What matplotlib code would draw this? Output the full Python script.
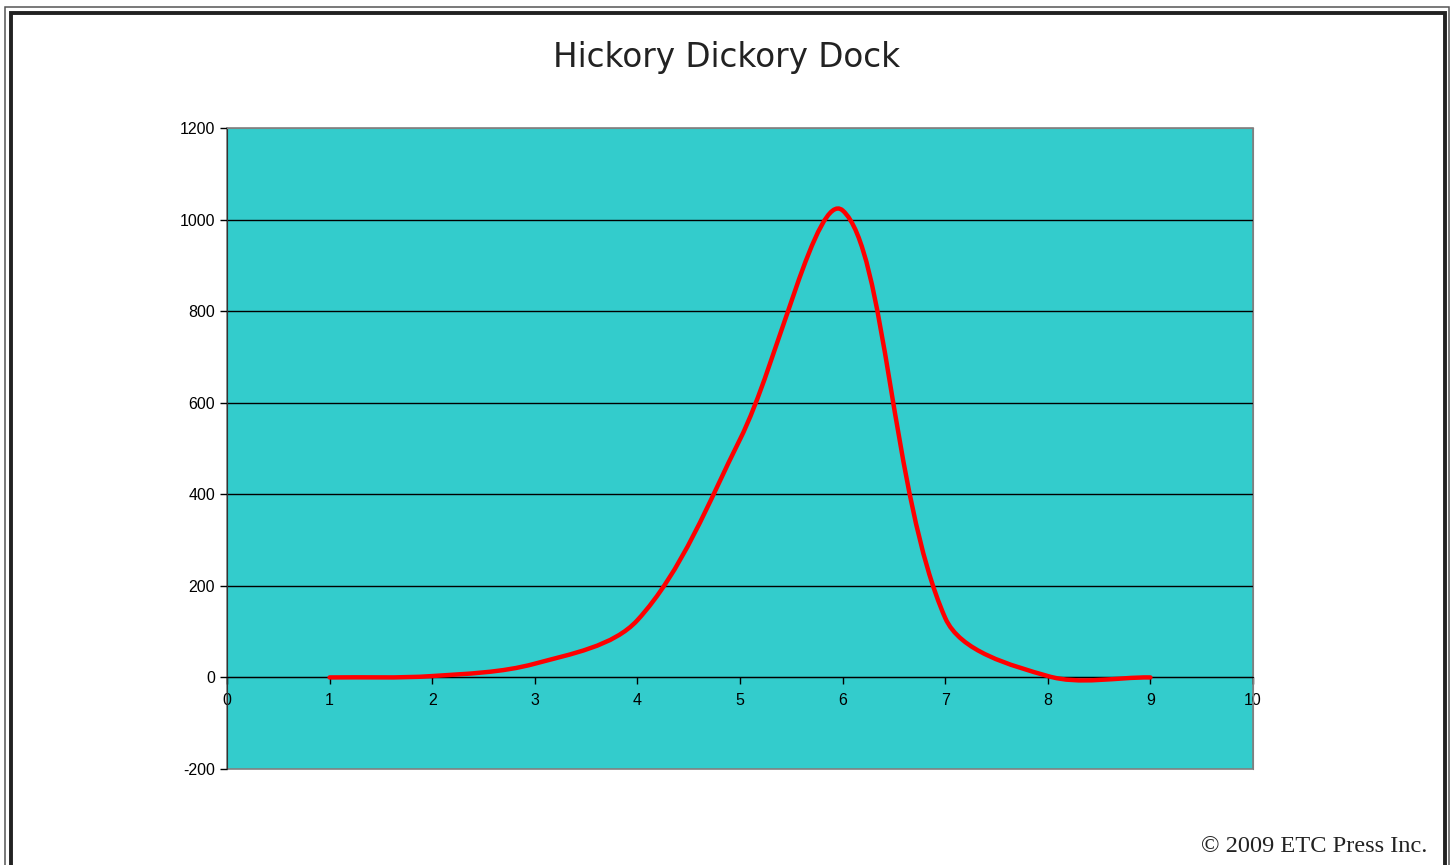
import numpy as np
import matplotlib.pyplot as plt
from matplotlib.path import Path
from matplotlib.patches import PathPatch, Rectangle

# data
x_vals = [1, 2, 3, 4, 5, 6, 7, 8, 9]
y_vals = [0, 3, 30, 125, 520, 1020, 130, 3, 0]
x_ticks = list(range(0, 11))
y_ticks = list(range(-200, 1201, 200))
title = "Hickory Dickory Dock"
credit = "\u00a9 2009 ETC Press Inc."

plt.rcParams['axes.unicode_minus'] = False


def excel_smooth_path(ax, xs, ys):
    # bezier control points like Excel's "smoothed line", distances in screen space
    pts = np.column_stack([xs, ys]).astype(float)
    scr = ax.transData.transform(pts)
    n = len(pts)
    verts = [pts[0]]
    codes = [Path.MOVETO]
    for i in range(n - 1):
        i0 = max(i - 1, 0)
        i3 = min(i + 2, n - 1)
        d01 = np.hypot(*(scr[i] - scr[i0]))
        d12 = np.hypot(*(scr[i + 1] - scr[i]))
        d23 = np.hypot(*(scr[i3] - scr[i + 1]))
        f1 = d12 / (d01 + d12) / 3
        f2 = d12 / (d12 + d23) / 3
        c1 = pts[i] + f1 * (pts[i + 1] - pts[i0])
        c2 = pts[i + 1] - f2 * (pts[i3] - pts[i])
        verts += [c1, c2, pts[i + 1]]
        codes += [Path.CURVE4] * 3
    return Path(verts, codes)


fig = plt.figure(figsize=(14.53, 8.65), dpi=100)
ax = fig.add_axes([227 / 1453, 1 - 769 / 865, 1026 / 1453, 641 / 865])
ax.set_facecolor('#33CCCC')
ax.set_xlim(0, 10)
ax.set_ylim(-200, 1200)

for y in y_ticks:
    if y not in (-200, 1200):
        ax.axhline(y, color='black', lw=1, zorder=1)

curve = excel_smooth_path(ax, x_vals, y_vals)
ax.add_patch(PathPatch(curve, facecolor='none', edgecolor='#FF0000', lw=3.2,
                       capstyle='round', joinstyle='round', zorder=3))

ax.set_xticks(x_ticks)
ax.set_yticks(y_ticks)
ax.tick_params(axis='both', labelsize=11.5, length=5, width=1, color='black',
               labelfontfamily='Liberation Sans')
ax.tick_params(axis='x', pad=6)
ax.spines['bottom'].set_position(('data', 0))
ax.spines['bottom'].set_color('black')
ax.spines['left'].set_color('#333333')
ax.spines['top'].set_color('#808080')
ax.spines['right'].set_color('#808080')
ax.add_patch(Rectangle((0, 0), 1, 1, transform=ax.transAxes, fill=False,
                       edgecolor='#808080', lw=1.2, zorder=0.5, clip_on=False))

fig.text(0.5, 1 - 67 / 865, title, ha='center', va='baseline', fontsize=23.5,
         family='DejaVu Sans', color='#222222')
fig.text(1427 / 1453, 1 - 852 / 865, credit, ha='right', va='baseline',
         fontsize=17.6, family='Liberation Serif', color='#222222')

# double frame round the page
W, H = 1453, 865
fig.add_artist(Rectangle((5 / W, -0.1), 1444 / W, 1.1 - 7 / H, transform=fig.transFigure,
                         fill=False, edgecolor='#555555', lw=1.1))
fig.add_artist(Rectangle((10.5 / W, -0.1), 1434 / W, 1.1 - 13 / H, transform=fig.transFigure,
                         fill=False, edgecolor='#222222', lw=2.8))

fig.savefig('out.png', dpi=100)
